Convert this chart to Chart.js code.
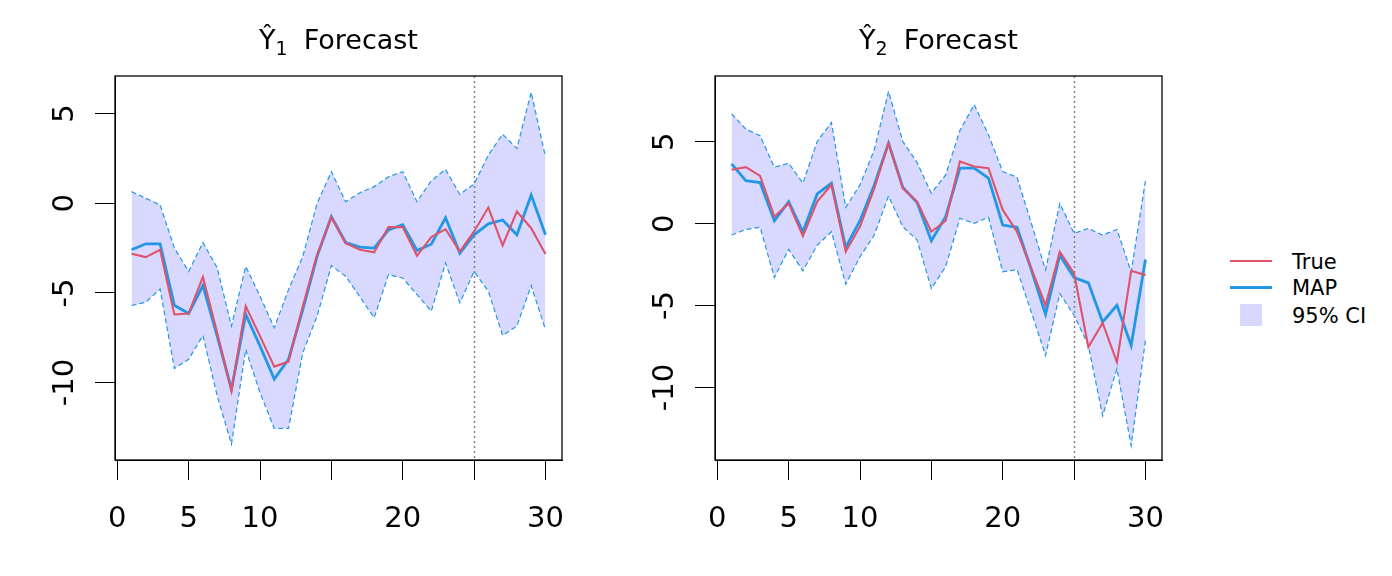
<!DOCTYPE html>
<html>
<head>
<meta charset="utf-8">
<script src="https://cdn.jsdelivr.net/npm/chart.js@4.4.0/dist/chart.umd.min.js"></script>
<style>
  body { margin: 0; background: #fff; width: 1392px; height: 576px; position: relative; overflow: hidden; font-family: "DejaVu Sans", sans-serif; }
  canvas.plot { position: absolute; top: 0; }
  .title { position: absolute; top: 24px; width: 447px; text-align: center; font-size: 27px; line-height: 32px; color: #000; white-space: nowrap; }
  .title sub { font-size: 19px; vertical-align: -6px; line-height: 0; }
  .title .rest { margin-left: 16px; }
  .leg { position: absolute; font-size: 21px; color: #000; line-height: 21px; }
  .swatch { position: absolute; }
</style>
</head>
<body>
<canvas id="chart1" class="plot" width="600" height="576" style="left:0"></canvas>
<canvas id="chart2" class="plot" width="600" height="576" style="left:600px"></canvas>

<div class="title" style="left:115px">Ŷ<sub>1</sub><span class="rest">Forecast</span></div>
<div class="title" style="left:715px">Ŷ<sub>2</sub><span class="rest">Forecast</span></div>

<div class="swatch" style="left:1230px; top:260px; width:42px; height:2px; background:#DF536B"></div>
<div class="leg" style="left:1292px; top:252px">True</div>
<div class="swatch" style="left:1230px; top:286px; width:42px; height:3px; background:#2297E6"></div>
<div class="leg" style="left:1292px; top:278px">MAP</div>
<div class="swatch" style="left:1240px; top:304px; width:22px; height:22px; background:#D9D9FF"></div>
<div class="leg" style="left:1292px; top:306px">95% CI</div>

<script>
// time steps
const steps = [1,2,3,4,5,6,7,8,9,10,11,12,13,14,15,16,17,18,19,20,21,22,23,24,25,26,27,28,29,30];
const forecastStart = 25;

// Y1
const true1  = [-2.81,-3.00,-2.59,-6.20,-6.15,-4.11,-7.22,-10.46,-5.74,-7.41,-9.11,-8.83,-5.74,-2.87,-0.78,-2.22,-2.59,-2.74,-1.33,-1.33,-2.93,-1.89,-1.44,-2.69,-1.57,-0.24,-2.35,-0.46,-1.39,-2.83];
const map1   = [-2.59,-2.26,-2.26,-5.69,-6.15,-4.59,-7.41,-10.37,-6.20,-7.96,-9.81,-8.70,-5.93,-2.96,-0.74,-2.19,-2.44,-2.50,-1.48,-1.19,-2.63,-2.28,-0.81,-2.78,-1.76,-1.15,-0.93,-1.76,0.46,-1.76];
const upper1 = [0.65,0.28,-0.09,-2.50,-3.80,-2.19,-3.60,-6.85,-3.52,-5.19,-6.94,-4.81,-2.96,0.00,1.76,0.09,0.59,0.93,1.48,1.76,0.09,1.26,1.89,0.50,1.07,2.69,3.85,3.06,6.20,2.59];
const lower1 = [-5.70,-5.52,-4.78,-9.22,-8.70,-7.37,-10.74,-13.43,-8.15,-10.56,-12.56,-12.56,-8.33,-6.30,-3.48,-4.07,-5.22,-6.39,-3.98,-4.17,-5.09,-6.02,-3.33,-5.56,-3.80,-4.91,-7.37,-6.85,-4.59,-7.04];

// Y2
const true2  = [3.29,3.45,2.92,0.43,1.24,-0.76,1.35,2.37,-1.71,-0.18,2.16,4.92,2.16,1.35,-0.49,0.18,3.80,3.49,3.39,0.84,-0.49,-2.73,-4.98,-1.71,-3.04,-7.53,-6.06,-8.45,-2.88,-3.14];
const map2   = [3.65,2.63,2.51,0.18,1.35,-0.49,1.82,2.47,-1.45,0.18,2.37,4.92,2.22,1.29,-1.04,0.43,3.39,3.39,2.78,-0.08,-0.22,-2.80,-5.53,-1.92,-3.29,-3.61,-6.00,-4.98,-7.43,-2.18];
const upper2 = [6.71,5.78,5.37,3.45,3.69,2.47,5.02,6.18,1.00,2.37,4.51,8.08,5.02,3.73,1.86,2.98,5.69,7.27,5.43,3.18,2.84,0.04,-2.82,1.24,-0.59,-0.29,-0.69,-0.35,-2.94,2.63];
const lower2 = [-0.69,-0.35,-0.22,-3.29,-1.57,-2.88,-1.31,-0.49,-3.69,-2.02,-0.69,1.69,-0.18,-1.00,-3.96,-2.63,0.33,0.02,0.39,-2.94,-2.80,-5.39,-8.04,-4.27,-5.59,-7.43,-11.73,-8.86,-13.55,-7.12];

// axes
const xTicks = [0,5,10,15,20,25,30];
const xTickLabels = ['0','5','10','','20','','30'];
const yTicks = [-10,-5,0,5];
const xRange = [-0.16, 31.16];
const yRange1 = [-14.32, 7.10];
const yRange2 = [-14.43, 9.02];

const red = '#DF536B', blue = '#2297E6', ciFill = '#D9D9FF';
const font = 'DejaVu Sans';

function pts(vals) {
  return steps.map((s, i) => ({ x: s, y: vals[i] }));
}

// box round the plot region
const boxPlugin = {
  id: 'box',
  afterDraw(chart) {
    const { ctx, chartArea: a } = chart;
    ctx.save();
    ctx.strokeStyle = '#000';
    ctx.lineWidth = 1.3;
    ctx.strokeRect(a.left, a.top, a.right - a.left, a.bottom - a.top);
    ctx.restore();
  }
};

// dotted line where the forecast starts
const splitPlugin = {
  id: 'split',
  afterDatasetsDraw(chart) {
    const { ctx, chartArea: a, scales } = chart;
    const px = Math.round(scales.x.getPixelForValue(forecastStart)) + 0.5;
    ctx.save();
    ctx.strokeStyle = '#808080';
    ctx.lineWidth = 1.5;
    ctx.setLineDash([2, 3]);
    ctx.beginPath();
    ctx.moveTo(px, a.top);
    ctx.lineTo(px, a.bottom);
    ctx.stroke();
    ctx.restore();
  }
};

function makeChart(id, tv, mv, up, lo, yr) {
  return new Chart(document.getElementById(id), {
    type: 'line',
    data: {
      datasets: [
        { label: 'upper', data: pts(up), borderColor: blue, borderWidth: 1.2, borderDash: [5, 3],
          fill: '+1', backgroundColor: ciFill, pointRadius: 0, order: 3 },
        { label: 'lower', data: pts(lo), borderColor: blue, borderWidth: 1.2, borderDash: [5, 3],
          fill: false, pointRadius: 0, order: 2 },
        { label: 'MAP', data: pts(mv), borderColor: blue, borderWidth: 2.8, fill: false, pointRadius: 0, order: 1 },
        { label: 'True', data: pts(tv), borderColor: red, borderWidth: 2.1, fill: false, pointRadius: 0, order: 0 }
      ]
    },
    options: {
      responsive: false,
      animation: false,
      devicePixelRatio: 1,
      layout: { padding: { left: 0, right: 38, top: 76, bottom: 0 } },
      plugins: {
        legend: { display: false },
        tooltip: { enabled: false },
        title: { display: false }
      },
      scales: {
        x: {
          type: 'linear', min: xRange[0], max: xRange[1],
          afterBuildTicks: s => { s.ticks = xTicks.map(v => ({ value: v })); },
          afterFit: s => { s.height = 116; },
          grid: { drawOnChartArea: false, drawTicks: true, tickLength: 20, color: '#000', lineWidth: 1 },
          border: { display: true, color: '#000', width: 1 },
          ticks: {
            autoSkip: false, maxRotation: 0, minRotation: 0, padding: 22, color: '#000',
            font: { family: font, size: 29 },
            callback: (v, i) => xTickLabels[i]
          }
        },
        y: {
          type: 'linear', min: yr[0], max: yr[1],
          afterBuildTicks: s => { s.ticks = yTicks.map(v => ({ value: v })); },
          afterFit: s => { s.width = 115; },
          grid: { drawOnChartArea: false, drawTicks: true, tickLength: 20, color: '#000', lineWidth: 1 },
          border: { display: true, color: '#000', width: 1 },
          ticks: {
            autoSkip: false, minRotation: 90, maxRotation: 90, crossAlign: 'center', padding: 6, color: '#000',
            font: { family: font, size: 29 },
            callback: v => String(v)
          }
        }
      }
    },
    plugins: [splitPlugin, boxPlugin]
  });
}

makeChart('chart1', true1, map1, upper1, lower1, yRange1);
makeChart('chart2', true2, map2, upper2, lower2, yRange2);
</script>
</body>
</html>
